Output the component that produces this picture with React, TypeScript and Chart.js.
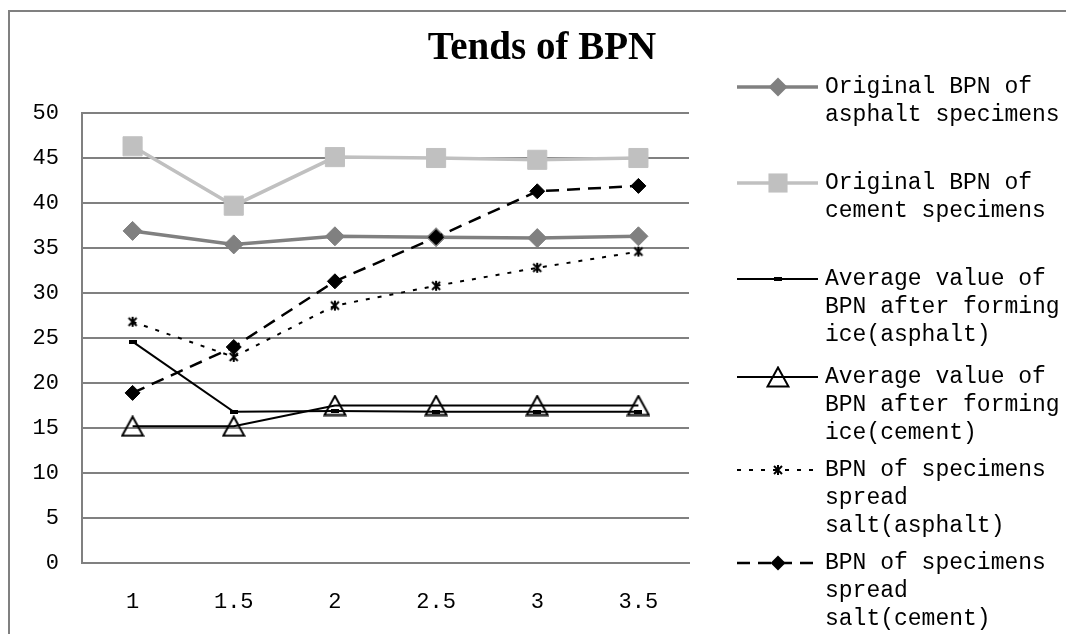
import React, { useEffect, useRef } from "react";
import { Chart, registerables } from "chart.js";

Chart.register(...registerables);

// ---- data ----
const categories = ["1", "1.5", "2", "2.5", "3", "3.5"];
const originalAsphalt = [36.9, 35.4, 36.3, 36.2, 36.1, 36.3];
const originalCement = [46.3, 39.7, 45.1, 45.0, 44.8, 45.0];
const iceAsphalt = [24.6, 16.8, 16.9, 16.8, 16.8, 16.8];
const iceCement = [15.2, 15.2, 17.5, 17.5, 17.5, 17.5];
const saltAsphalt = [26.8, 22.9, 28.6, 30.8, 32.8, 34.6];
const saltCement = [18.9, 24.0, 31.3, 36.2, 41.3, 41.9];
const yMin = 0;
const yMax = 50;
const yStep = 5;
const chartTitle = "Tends of BPN";
const seriesLabels: string[][] = [
  ["Original BPN of", "asphalt specimens"],
  ["Original BPN of", "cement specimens"],
  ["Average value of", "BPN after forming", "ice(asphalt)"],
  ["Average value of", "BPN after forming", "ice(cement)"],
  ["BPN of specimens", "spread", "salt(asphalt)"],
  ["BPN of specimens", "spread", "salt(cement)"],
];

function makeCanvas(w: number, h: number, draw: (c: CanvasRenderingContext2D) => void) {
  const c = document.createElement("canvas");
  c.width = w;
  c.height = h;
  const ctx = c.getContext("2d") as CanvasRenderingContext2D;
  draw(ctx);
  return c;
}

export default function App() {
  const ref = useRef<HTMLCanvasElement | null>(null);

  useEffect(() => {
    if (!ref.current) return;

    const dashMarker = makeCanvas(8, 4, (c) => {
      c.fillStyle = "#000";
      c.fillRect(0, 0, 8, 4);
    });
    const triMarker = makeCanvas(24, 22, (c) => {
      c.strokeStyle = "#000";
      c.lineWidth = 2;
      c.beginPath();
      c.moveTo(12, 1.5);
      c.lineTo(22.5, 20.5);
      c.lineTo(1.5, 20.5);
      c.closePath();
      c.stroke();
    });
    const starMarker = makeCanvas(12, 12, (c) => {
      c.strokeStyle = "#000";
      c.lineWidth = 2;
      c.beginPath();
      c.moveTo(2, 2);
      c.lineTo(10, 10);
      c.moveTo(10, 2);
      c.lineTo(2, 10);
      c.moveTo(6, 1);
      c.lineTo(6, 11);
      c.stroke();
    });

    const styles = [
      { color: "#808080", width: 3.5, dash: [] as number[], point: "rectRot" as any, radius: 9.5 },
      { color: "#C0C0C0", width: 3.5, dash: [] as number[], point: "rect" as any, radius: 13.5 },
      { color: "#000000", width: 2, dash: [] as number[], point: dashMarker as any, radius: 4 },
      { color: "#000000", width: 2, dash: [] as number[], point: triMarker as any, radius: 10 },
      { color: "#000000", width: 2, dash: [4, 8], point: starMarker as any, radius: 6 },
      { color: "#000000", width: 2.5, dash: [13, 8], point: "rectRot" as any, radius: 7.5 },
    ];
    const seriesData = [originalAsphalt, originalCement, iceAsphalt, iceCement, saltAsphalt, saltCement];

    const datasets = seriesData.map((d, i) => ({
      label: seriesLabels[i].join(" "),
      data: d,
      borderColor: styles[i].color,
      backgroundColor: styles[i].color,
      borderWidth: styles[i].width,
      borderDash: styles[i].dash,
      pointStyle: styles[i].point,
      pointRadius: styles[i].radius,
      pointBackgroundColor: styles[i].color,
      pointBorderColor: styles[i].color,
      pointBorderWidth: 1,
      tension: 0,
      fill: false,
      order: 6 - i,
    }));

    const legendY = [87, 183, 279, 377, 470, 563];

    const decor = {
      id: "decor",
      beforeDraw(chart: any) {
        const c = chart.ctx as CanvasRenderingContext2D;
        c.save();
        c.fillStyle = "#fff";
        c.fillRect(0, 0, chart.width, chart.height);
        c.restore();
      },
      afterDraw(chart: any) {
        const c = chart.ctx as CanvasRenderingContext2D;
        c.save();
        // outer frame
        c.strokeStyle = "#808080";
        c.lineWidth = 2;
        c.beginPath();
        c.moveTo(9, 700);
        c.lineTo(9, 11);
        c.lineTo(1200, 11);
        c.stroke();
        // title
        c.fillStyle = "#000";
        c.font = 'bold 39px "Liberation Serif", serif';
        c.textAlign = "center";
        c.textBaseline = "alphabetic";
        c.fillText(chartTitle, 542, 59);
        // legend
        c.font = '23px "Liberation Mono", monospace';
        c.textAlign = "left";
        c.textBaseline = "middle";
        styles.forEach((s, i) => {
          const y = legendY[i];
          c.save();
          c.strokeStyle = s.color;
          c.lineWidth = s.width;
          c.setLineDash(s.dash);
          c.beginPath();
          c.moveTo(737, y);
          c.lineTo(818, y);
          c.stroke();
          c.restore();
          const mx = 778;
          c.fillStyle = s.color;
          if (s.point === "rectRot") {
            const r = s.radius;
            c.beginPath();
            c.moveTo(mx, y - r);
            c.lineTo(mx + r, y);
            c.lineTo(mx, y + r);
            c.lineTo(mx - r, y);
            c.closePath();
            c.fill();
          } else if (s.point === "rect") {
            const h = s.radius * Math.SQRT1_2;
            c.fillRect(mx - h, y - h, 2 * h, 2 * h);
          } else {
            const img = s.point as HTMLCanvasElement;
            c.drawImage(img, mx - img.width / 2, y - img.height / 2);
          }
          c.fillStyle = "#000";
          seriesLabels[i].forEach((line, k) => {
            c.fillText(line, 825, y + k * 28);
          });
        });
        c.restore();
      },
    };

    const tickFont = { family: '"Liberation Mono", monospace', size: 22 };

    const chart = new Chart(ref.current, {
      type: "line",
      data: { labels: categories, datasets },
      options: {
        animation: false,
        responsive: false,
        devicePixelRatio: 1,
        layout: { padding: { left: 0, right: 377, top: 113, bottom: 0 } },
        plugins: {
          legend: { display: false },
          title: { display: false },
          tooltip: { enabled: false },
        },
        scales: {
          x: {
            offset: true,
            grid: { display: false, drawTicks: false },
            border: { display: true, color: "#808080", width: 2 },
            ticks: { color: "#000", font: tickFont, padding: 26, maxRotation: 0 },
            afterFit: (s: any) => {
              s.height = 71;
            },
          },
          y: {
            min: yMin,
            max: yMax,
            ticks: { stepSize: yStep, color: "#000", font: tickFont, padding: 23 },
            grid: { color: "#808080", lineWidth: 2, drawTicks: false },
            border: { display: true, color: "#808080", width: 2 },
            afterFit: (s: any) => {
              s.width = 82;
            },
          },
        },
      } as any,
      plugins: [decor],
    });

    return () => chart.destroy();
  }, []);

  return (
    <div style={{ position: "fixed", left: 0, top: 0, width: 1066, height: 634, background: "#fff" }}>
      <canvas ref={ref} width={1066} height={634} style={{ display: "block" }} />
    </div>
  );
}
